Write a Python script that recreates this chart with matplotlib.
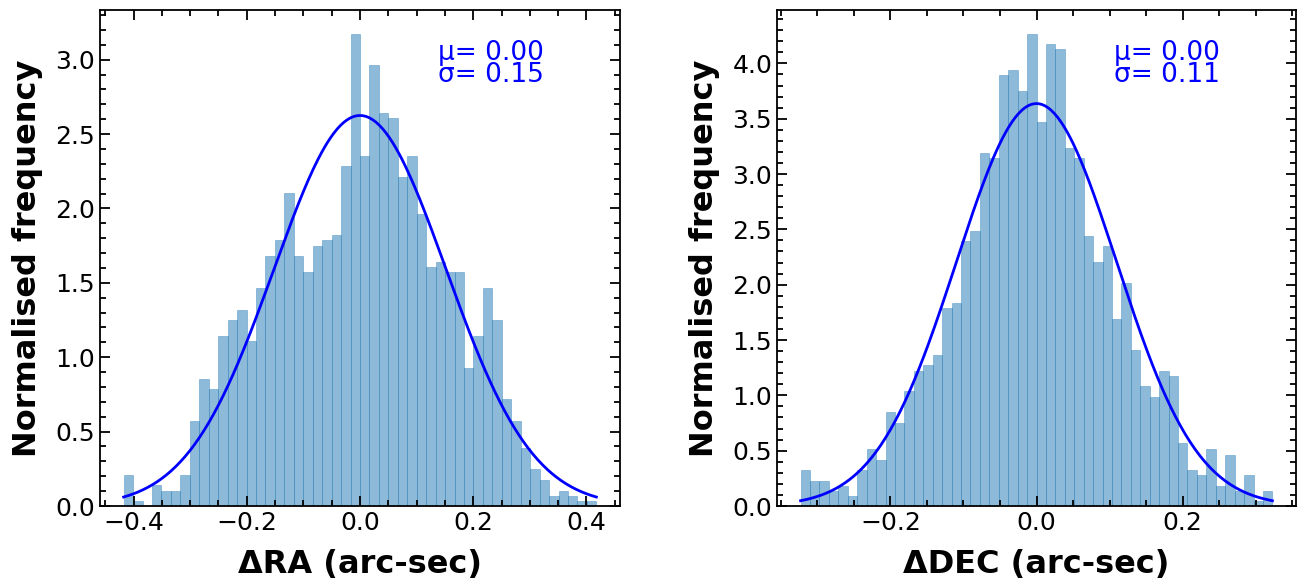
import matplotlib.pyplot as plt
import numpy as np
from matplotlib.ticker import MultipleLocator

# normalised histogram heights (50 bins each)
ra_heights = [0.211, 0.036, 0.0, 0.144, 0.103, 0.103, 0.211, 0.568, 0.856, 0.784,
              1.141, 1.249, 1.320, 1.107, 1.464, 1.680, 1.788, 2.104, 1.680, 1.572,
              1.747, 1.788, 1.821, 2.286, 3.175, 2.353, 2.967, 2.643, 2.610, 2.212,
              2.353, 1.963, 1.606, 1.639, 1.572, 1.572, 0.925, 1.141, 1.464, 1.249,
              0.716, 0.568, 0.393, 0.252, 0.177, 0.070, 0.103, 0.070, 0.036, 0.036]
dec_heights = [0.329, 0.229, 0.229, 0.139, 0.184, 0.094, 0.329, 0.519, 0.420, 0.845,
               0.746, 1.036, 1.217, 1.271, 1.362, 1.787, 1.833, 2.394, 2.485, 3.191,
               3.149, 3.898, 3.943, 3.753, 4.269, 3.472, 4.179, 4.134, 3.237, 3.146,
               2.440, 2.204, 2.349, 1.688, 2.014, 1.407, 1.081, 0.981, 1.217, 1.171,
               0.565, 0.329, 0.284, 0.519, 0.184, 0.465, 0.139, 0.284, 0.048, 0.139]
ra_range = (-0.4175, 0.4175)
dec_range = (-0.323, 0.323)
ra_mu, ra_sigma = 0.0, 0.152
dec_mu, dec_sigma = 0.0, 0.1097
ra_label = 'μ= 0.00\nσ= 0.15'
dec_label = 'μ= 0.00\nσ= 0.11'


def gauss(x, mu, sig):
	return np.exp(-0.5 * ((x - mu) / sig) ** 2) / (sig * np.sqrt(2 * np.pi))


def panel(ax, heights, rng, mu, sig, label, xlabel):
	edges = np.linspace(rng[0], rng[1], len(heights) + 1)
	centers = 0.5 * (edges[:-1] + edges[1:])
	ax.hist(centers, bins=edges, weights=heights, color='C0', alpha=0.5,
	        edgecolor='C0', linewidth=0.5)
	xx = np.linspace(rng[0], rng[1], 300)
	ax.plot(xx, gauss(xx, mu, sig), color='blue', lw=2)
	ax.text(0.65, 0.94, label, transform=ax.transAxes, va='top', ha='left',
	        color='blue', fontsize=19, linespacing=0.8)
	ax.set_xlabel(xlabel, fontsize=23, fontweight='bold', labelpad=10)
	ax.set_ylabel('Normalised frequency', fontsize=23, fontweight='bold', labelpad=9)
	ax.xaxis.set_major_locator(MultipleLocator(0.2))
	ax.xaxis.set_minor_locator(MultipleLocator(0.05))
	ax.yaxis.set_major_locator(MultipleLocator(0.5))
	ax.yaxis.set_minor_locator(MultipleLocator(0.1))
	ax.tick_params(which='both', direction='in', top=True, right=True, width=1.3, labelsize=18)
	ax.tick_params(which='major', length=7)
	ax.tick_params(which='minor', length=4)
	for s in ax.spines.values():
		s.set_linewidth(1.3)
	ax.set_ylim(bottom=0)


fig = plt.figure(figsize=(13.03, 5.79), dpi=100)
ax1 = fig.add_axes([100 / 1303, 73 / 579, 520 / 1303, 496 / 579])
ax2 = fig.add_axes([777 / 1303, 73 / 579, 519 / 1303, 496 / 579])

panel(ax1, ra_heights, ra_range, ra_mu, ra_sigma, ra_label, 'ΔRA (arc-sec)')
panel(ax2, dec_heights, dec_range, dec_mu, dec_sigma, dec_label, 'ΔDEC (arc-sec)')

fig.savefig('out.png', dpi=100)
